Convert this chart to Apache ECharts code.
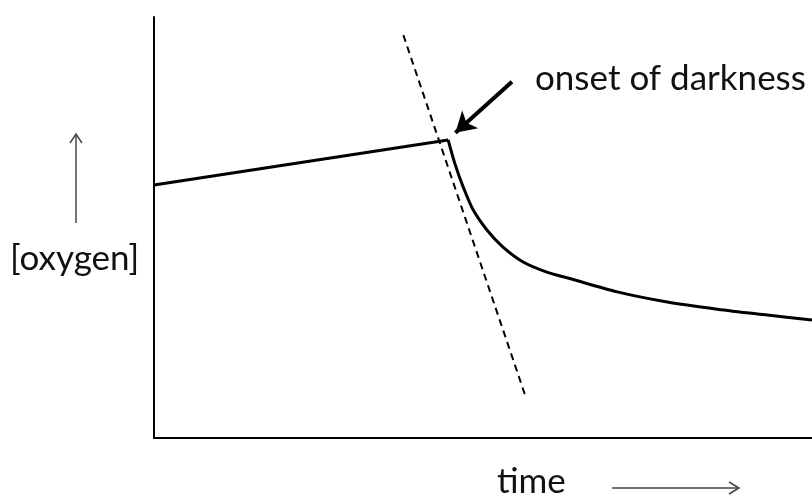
<!DOCTYPE html>
<html>
<head>
<meta charset="utf-8">
<script src="https://cdn.jsdelivr.net/npm/echarts@6/dist/echarts.min.js"></script>
<style>
  html, body { margin: 0; padding: 0; background: #fff; }
  #chart { width: 812px; height: 500px; }
</style>
</head>
<body>
<div id="chart"></div>
<script>
// light period: oxygen rises slowly
const lightPeriod = [[0, 60.1], [44.7, 70.8]];
// dark period: oxygen falls, fast at first then slower
const darkPeriod = [
  [44.7, 70.8], [45.7, 65.3], [47.0, 59.6], [48.5, 54.2], [50.6, 49.4],
  [53.0, 45.4], [56.1, 41.8], [59.7, 39.4], [62.9, 38.0], [70.4, 34.7],
  [78.0, 32.3], [85.6, 30.6], [93.2, 29.2], [100, 28.0]
];
// tangent at the onset of darkness
const tangent = [[37.9, 95.7], [56.5, 9.7]];
// annotation arrow, from label towards the break point
const arrowFrom = [54.4, 84.6];
const arrowTo = [45.8, 72.5];

const font = 'Lato, "Open Sans", sans-serif';
let myChart = echarts.init(document.getElementById('chart'));

myChart.setOption({
  animation: false,
  grid: { left: 154, right: 0, top: 17, bottom: 62 },
  xAxis: {
    type: 'value', min: 0, max: 100,
    axisLine: { show: true, lineStyle: { color: '#000', width: 2 } },
    axisTick: { show: false }, axisLabel: { show: false }, splitLine: { show: false }
  },
  yAxis: {
    type: 'value', min: 0, max: 100,
    axisLine: { show: true, lineStyle: { color: '#000', width: 2 } },
    axisTick: { show: false }, axisLabel: { show: false }, splitLine: { show: false }
  },
  series: [
    {
      type: 'line', data: lightPeriod, symbol: 'none',
      lineStyle: { color: '#000', width: 3, join: 'round' }
    },
    {
      type: 'line', data: darkPeriod, symbol: 'none', smooth: 0.3,
      lineStyle: { color: '#000', width: 3, join: 'round' }
    },
    {
      type: 'line', data: tangent, symbol: 'none',
      lineStyle: { color: '#000', width: 2, type: [7, 5] },
      markLine: {
        silent: true,
        symbol: ['none', 'arrow'],
        symbolSize: [18, 20],
        label: { show: false },
        lineStyle: { color: '#000', width: 4, type: 'solid' },
        data: [[{ coord: arrowFrom }, { coord: arrowTo }]]
      }
    }
  ],
  graphic: [
    {
      type: 'text', left: 535, top: 61,
      style: { text: 'onset of darkness', font: '35px ' + font, fill: '#111' }
    },
    {
      type: 'text', left: 10, top: 241,
      style: { text: '[oxygen]', font: '35px ' + font, fill: '#111' }
    },
    {
      type: 'text', left: 497, top: 464,
      style: { text: 'time', font: '35px ' + font, fill: '#111' }
    },
    // y direction arrow
    { type: 'line', shape: { x1: 76, y1: 223, x2: 76, y2: 134 }, style: { stroke: '#444', lineWidth: 1.5 } },
    { type: 'polyline', shape: { points: [[70, 143], [76, 134], [82, 143]] }, style: { stroke: '#444', lineWidth: 1.5, fill: null } },
    // x direction arrow
    { type: 'line', shape: { x1: 612, y1: 488, x2: 739, y2: 488 }, style: { stroke: '#444', lineWidth: 1.5 } },
    { type: 'polyline', shape: { points: [[729, 482], [739, 488], [729, 494]] }, style: { stroke: '#444', lineWidth: 1.5, fill: null } }
  ]
});
</script>
</body>
</html>
